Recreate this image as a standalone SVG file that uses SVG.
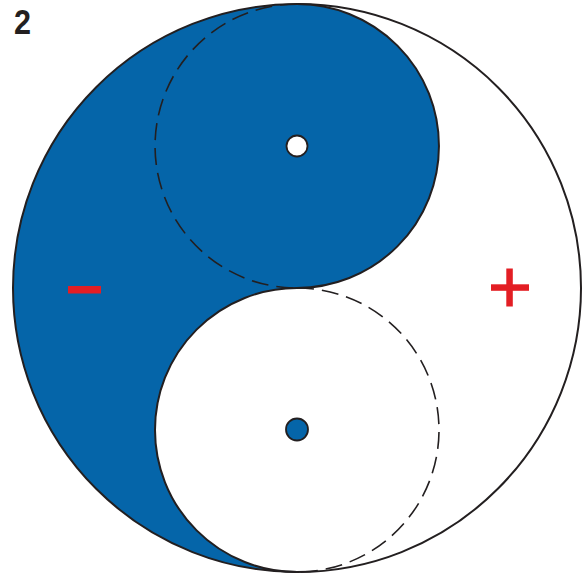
<svg xmlns="http://www.w3.org/2000/svg" width="588" height="575" viewBox="0 0 588 575">
<style>
.outline{fill:none;stroke:#231f20;stroke-width:2}
.dash{fill:none;stroke:#231f20;stroke-width:1.6;stroke-dasharray:17 8}
.sign{fill:#e31e24}
.label{font-family:"Liberation Sans",Arial,sans-serif;font-weight:bold;font-size:36px;fill:#231f20}
</style>
<rect width="588" height="575" fill="#fff"/>
<g id="big-circle">
<circle cx="297" cy="288" r="284" fill="#fff"/>
</g>
<g id="blue-region">
<path d="M297 4 A142 142 0 0 1 297 288 A142 142 0 0 0 297 572 A284 284 0 0 1 297 4 Z" fill="#0565a9"/>
</g>
<g id="outlines">
<circle class="outline" cx="297" cy="288" r="284"/>
<path class="outline" d="M297 4 A142 142 0 0 1 297 288 A142 142 0 0 0 297 572"/>
<path class="dash" d="M297 4 A142 142 0 0 0 297 288"/>
<path class="dash" d="M297 288 A142 142 0 0 1 297 572"/>
</g>
<g id="upper-dot">
<circle cx="297" cy="146" r="10.5" fill="#fff" stroke="#231f20" stroke-width="1.8"/>
</g>
<g id="lower-dot">
<circle cx="297" cy="429.5" r="11" fill="#0565a9" stroke="#231f20" stroke-width="1.8"/>
</g>
<g id="minus">
<rect class="sign" x="68" y="286" width="33" height="7.5"/>
</g>
<g id="plus">
<rect class="sign" x="491" y="284.3" width="38" height="6.5"/>
<rect class="sign" x="506.3" y="268.5" width="6.5" height="38"/>
</g>
<g id="label">
<text class="label" x="14" y="34" transform="translate(14 0) scale(0.85 1) translate(-14 0)">2</text>
</g>
</svg>
